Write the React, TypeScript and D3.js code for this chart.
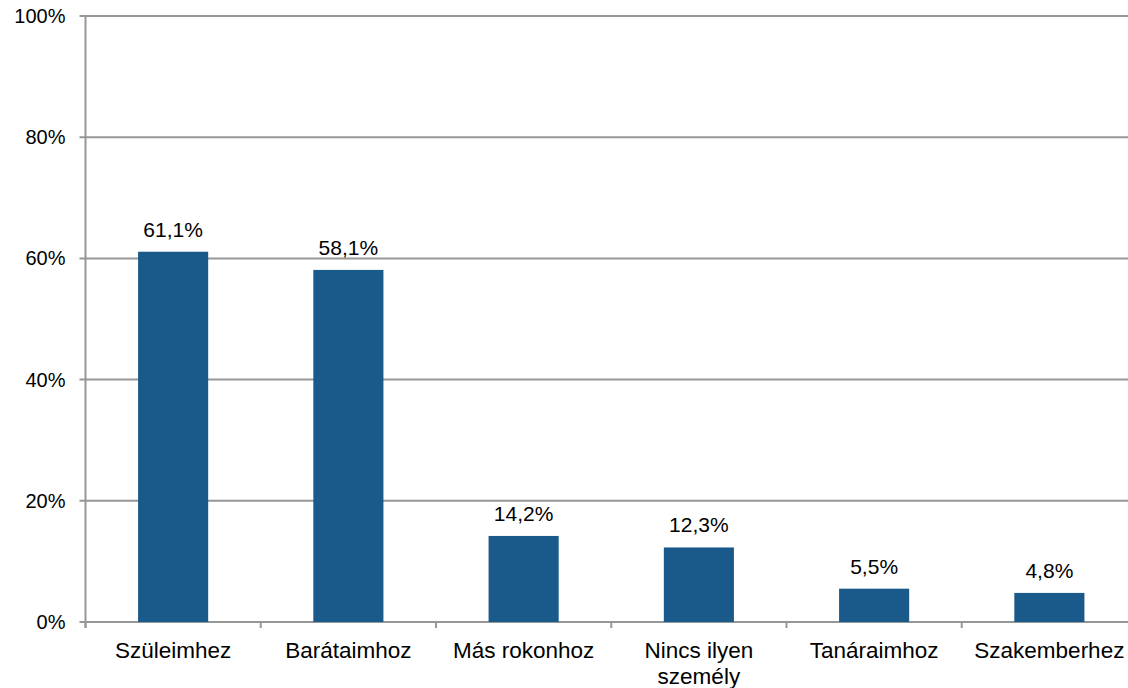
import React, { useRef, useEffect } from "react";
import * as d3 from "d3";

const categories = [
  "Szüleimhez",
  "Barátaimhoz",
  "Más rokonhoz",
  "Nincs ilyen személy",
  "Tanáraimhoz",
  "Szakemberhez",
];
const values = [61.1, 58.1, 14.2, 12.3, 5.5, 4.8];
const yTicks = [0, 20, 40, 60, 80, 100];

const App: React.FC = () => {
  const svgRef = useRef<SVGSVGElement>(null);

  useEffect(() => {
    const svg = d3.select(svgRef.current);
    svg.selectAll("*").remove();
    const width = 1128;
    const height = 688;
    // the plot area runs past the right edge of the picture, as in the source
    const plot = { left: 85.5, right: 1137, top: 16, bottom: 622 };
    const gray = "#979797";
    const font = "'Liberation Sans', Arial, sans-serif";

    const x = d3
      .scaleBand()
      .domain(categories)
      .range([plot.left, plot.right])
      .paddingInner(0)
      .paddingOuter(0);

    const y = d3.scaleLinear().domain([0, 100]).range([plot.bottom, plot.top]);

    // gridlines
    svg
      .append("g")
      .selectAll("line")
      .data(yTicks)
      .enter()
      .append("line")
      .attr("x1", plot.left - 6)
      .attr("x2", width)
      .attr("y1", (d) => y(d))
      .attr("y2", (d) => y(d))
      .attr("stroke", gray)
      .attr("stroke-width", 2);

    svg
      .append("g")
      .selectAll("text")
      .data(yTicks)
      .enter()
      .append("text")
      .attr("x", plot.left - 20)
      .attr("y", (d) => y(d))
      .attr("dy", "0.35em")
      .attr("text-anchor", "end")
      .style("font-family", font)
      .style("font-size", "20px")
      .attr("fill", "#000")
      .text((d) => `${d}%`);

    // bars
    const bw = x.bandwidth() * 0.4;
    svg
      .selectAll(".bar")
      .data(values)
      .enter()
      .append("rect")
      .attr("class", "bar")
      .attr("x", (_, i) => x(categories[i])! + (x.bandwidth() - bw) / 2)
      .attr("y", (d) => y(d))
      .attr("width", bw)
      .attr("height", (d) => y(0) - y(d))
      .attr("fill", "#1a5a8a");

    svg
      .selectAll(".lbl")
      .data(values)
      .enter()
      .append("text")
      .attr("class", "lbl")
      .attr("x", (_, i) => x(categories[i])! + x.bandwidth() / 2)
      .attr("y", (d) => y(d) - 15)
      .attr("text-anchor", "middle")
      .style("font-family", font)
      .style("font-size", "21px")
      .text((d) => `${d.toFixed(1).replace(".", ",")}%`);

    // axis line
    svg
      .append("line")
      .attr("x1", plot.left)
      .attr("x2", plot.left)
      .attr("y1", y(100))
      .attr("y2", y(0) + 6)
      .attr("stroke", gray)
      .attr("stroke-width", 2);

    const bounds = categories.map((c) => x(c)!).concat([plot.right]);
    svg
      .append("g")
      .selectAll("line")
      .data(bounds)
      .enter()
      .append("line")
      .attr("x1", (d) => d)
      .attr("x2", (d) => d)
      .attr("y1", y(0))
      .attr("y2", y(0) + 6)
      .attr("stroke", gray)
      .attr("stroke-width", 2);

    // category labels
    const wrap: Record<string, string[]> = {
      "Nincs ilyen személy": ["Nincs ilyen", "személy"],
    };
    const cat = svg
      .append("g")
      .selectAll("text")
      .data(categories)
      .enter()
      .append("text")
      .attr("x", (d) => x(d)! + x.bandwidth() / 2)
      .attr("y", y(0) + 36)
      .attr("text-anchor", "middle")
      .style("font-family", font)
      .style("font-size", "22.5px");
    cat
      .selectAll("tspan")
      .data((d) => wrap[d] ?? [d])
      .enter()
      .append("tspan")
      .attr("x", function () {
        return (this as SVGTSpanElement).parentElement!.getAttribute("x");
      })
      .attr("dy", (_, i) => (i === 0 ? 0 : 26))
      .text((d) => d);
  }, []);

  return (
    <svg
      ref={svgRef}
      width={1128}
      height={688}
      style={{ position: "absolute", left: 0, top: 0 }}
    ></svg>
  );
};

export default App;
